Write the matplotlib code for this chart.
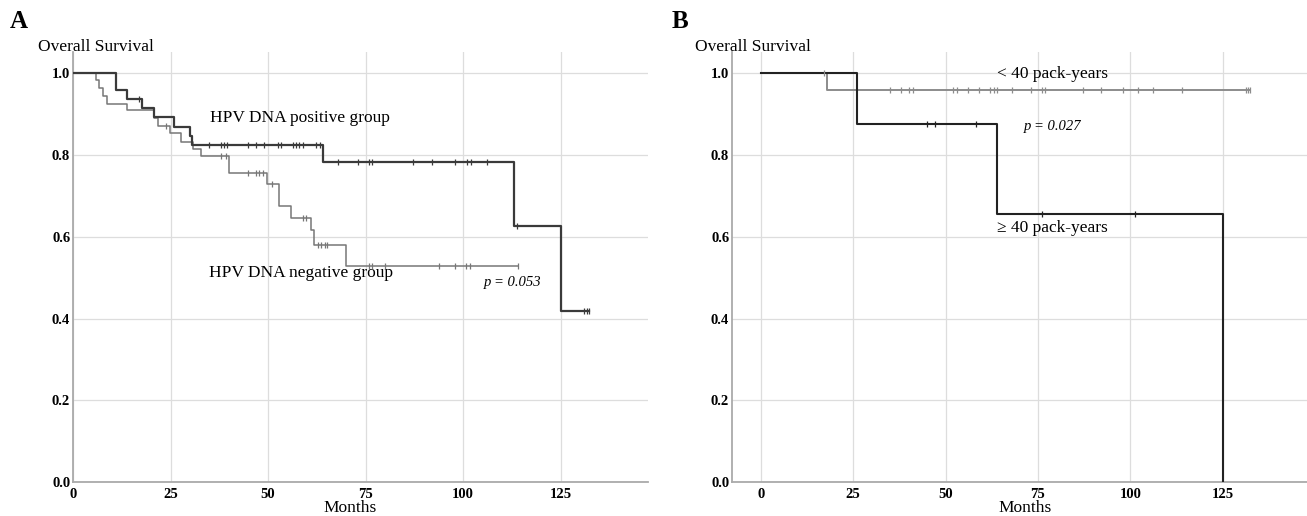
import numpy as np
import matplotlib
matplotlib.use('Agg')
import matplotlib.pyplot as plt

plt.rcParams['font.family'] = ['Liberation Serif', 'DejaVu Serif']

# Panel A: HPV DNA status (Kaplan-Meier estimates)
pos_times = [11.0, 13.8, 17.8, 20.8, 25.9, 30.0, 30.6, 64.0, 113.0, 125.0]
pos_surv = [0.958, 0.936, 0.914, 0.892, 0.869, 0.846, 0.824, 0.783, 0.626, 0.418]
pos_censor = [16.9, 34.9, 37.9, 38.8, 39.6, 44.8, 46.9, 48.9, 52.5, 53.3, 56.3, 57.2,
              58.0, 58.9, 62.3, 63.2, 67.9, 73.0, 76.0, 76.7, 87.1, 92.1, 98.0, 101.1,
              101.9, 106.0, 113.9, 131.0, 131.7, 132.2]

neg_times = [5.8, 6.7, 7.8, 8.8, 13.8, 20.8, 21.7, 24.8, 27.7, 30.8, 32.8, 39.9,
             49.7, 52.7, 55.9, 61.0, 61.9, 70.0]
neg_surv = [0.983, 0.964, 0.945, 0.926, 0.909, 0.891, 0.870, 0.853, 0.832, 0.814,
            0.797, 0.755, 0.730, 0.676, 0.647, 0.616, 0.581, 0.529]
neg_censor = [23.8, 37.9, 39.2, 44.8, 46.9, 47.8, 48.6, 51.0, 58.9, 59.8, 62.7, 63.6,
              64.5, 65.1, 76.0, 76.7, 80.1, 93.8, 98.0, 100.8, 101.7, 114.1]

# Panel B: smoking (pack-years)
low_times = [18.0]
low_surv = [0.96]
low_censor = [17.0, 35.0, 37.9, 40.0, 41.1, 51.9, 53.1, 56.0, 59.1, 62.1, 63.0, 63.9,
              68.0, 73.0, 76.1, 77.0, 87.3, 92.1, 98.1, 102.1, 106.2, 114.1, 131.2,
              131.9, 132.4]

high_times = [26.0, 64.0, 125.2]
high_surv = [0.875, 0.656, 0.0]
high_censor = [45.0, 47.0, 58.1, 76.1, 101.2]

x_ticks = [0, 25, 50, 75, 100, 125]
y_ticks = [0.0, 0.2, 0.4, 0.6, 0.8, 1.0]


def km_curve(ax, times, surv, censor, color, lw):
    t = np.concatenate([[0.0], times])
    s = np.concatenate([[1.0], surv])
    end = max(max(censor), t[-1])
    t_full = np.append(t, end)
    s_full = np.append(s, s[-1])
    ax.step(t_full, s_full, where='post', color=color, lw=lw, zorder=3)
    idx = np.searchsorted(t, censor, side='right') - 1
    ax.plot(censor, s[idx], linestyle='none', marker='|', markersize=4.5,
            markeredgewidth=0.9, color=color, zorder=4)


def style_axes(ax, xlim):
    ax.set_xlim(*xlim)
    ax.set_ylim(0, 1.052)
    ax.set_xticks(x_ticks)
    ax.set_yticks(y_ticks)
    ax.set_yticklabels(['%.1f' % v for v in y_ticks])
    ax.grid(True, color='#dddddd', lw=0.9)
    ax.set_axisbelow(True)
    for side in ['top', 'right']:
        ax.spines[side].set_visible(False)
    for side in ['left', 'bottom']:
        ax.spines[side].set_color('#aaaaaa')
        ax.spines[side].set_linewidth(1.3)
    ax.tick_params(length=0, labelsize=10.5)
    ax.tick_params(axis='x', pad=4)
    ax.tick_params(axis='y', pad=2)
    for lab in ax.get_xticklabels() + ax.get_yticklabels():
        lab.set_fontweight('bold')


W, H = 1307, 516
fig = plt.figure(figsize=(W / 100, H / 100), dpi=100)

axA = fig.add_axes([73 / W, 34 / H, 575 / W, 430 / H])
axB = fig.add_axes([732 / W, 34 / H, 575 / W, 430 / H])

km_curve(axA, neg_times, neg_surv, neg_censor, '#777777', 1.1)
km_curve(axA, pos_times, pos_surv, pos_censor, '#3a3a3a', 1.6)
style_axes(axA, (0, 147.4))

km_curve(axB, low_times, low_surv, low_censor, '#8c8c8c', 1.4)
km_curve(axB, high_times, high_surv, high_censor, '#222222', 1.5)
style_axes(axB, (-7.8, 147.8))

axA.text(35.1, 0.890, 'HPV DNA positive group', fontsize=12.5, va='center', ha='left')
axA.text(34.9, 0.511, 'HPV DNA negative group', fontsize=12.5, va='center', ha='left')
axA.text(105.3, 0.489, 'p = 0.053', fontsize=10.5, style='italic', va='center', ha='left')

axB.text(64.0, 0.999, '< 40 pack-years', fontsize=12.5, va='center', ha='left')
axB.text(71.3, 0.870, 'p = 0.027', fontsize=10.5, style='italic', va='center', ha='left')
axB.text(64.0, 0.621, '\u2265 40 pack-years', fontsize=12.5, va='center', ha='left')

fig.text(10 / W, 1 - 21 / H, 'A', fontsize=18, fontweight='bold', va='center')
fig.text(672 / W, 1 - 21 / H, 'B', fontsize=18, fontweight='bold', va='center')
fig.text(38 / W, 1 - 47 / H, 'Overall Survival', fontsize=12.5, va='center')
fig.text(695 / W, 1 - 47 / H, 'Overall Survival', fontsize=12.5, va='center')
fig.text(350 / W, 1 - 508 / H, 'Months', fontsize=12.5, va='center', ha='center')
fig.text(1025 / W, 1 - 508 / H, 'Months', fontsize=12.5, va='center', ha='center')

fig.savefig('out.png', dpi=100)
